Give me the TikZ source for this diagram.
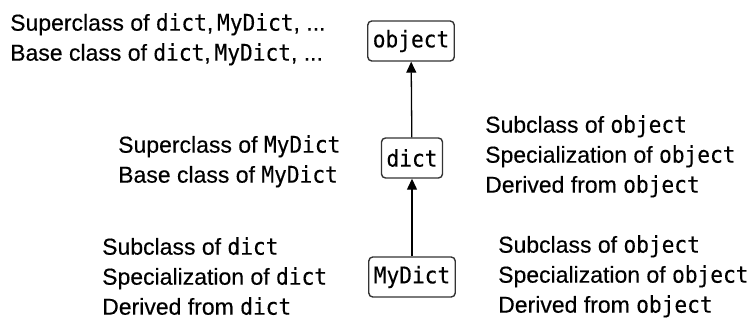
\documentclass[tikz,border=0pt]{standalone}
\usepackage{fontspec}
\setmainfont{Liberation Sans}[FakeBold=0.35]
\setmonofont{DejaVu Sans Mono}[FakeStretch=0.92,FakeBold=0.3]
\usetikzlibrary{arrows.meta}
\newcommand{\cd}[1]{{\fontsize{23}{30}\selectfont\ttfamily #1}}
\tikzset{
  cls/.style={draw=black!80, line width=1.4pt, rounded corners=4pt, minimum height=40pt, inner xsep=5pt, inner ysep=0pt, font=\fontsize{23}{26}\selectfont\ttfamily},
  lbl/.style={anchor=north west, inner sep=0pt, align=left, font=\fontsize{23}{30}\selectfont},
  inh/.style={line width=1.3pt, -{Triangle[length=11pt,width=10pt]}}
}
\begin{document}
\begin{tikzpicture}[x=1pt,y=-1pt]
\useasboundingbox (0,0) rectangle (754,320);
\node[cls] (object) at (411,41) {object};
\node[cls] (dict) at (412,158) {dict};
\node[cls] (mydict) at (412,277) {MyDict};
\draw[inh] (dict) -- (object);
\draw[inh] (mydict) -- (dict);
\node[lbl] (t1) at (10,13) {Superclass of \cd{dict},\,\cd{MyDict}, ...\\Base class of \cd{dict},\,\cd{MyDict}, ...};
\node[lbl] (t2) at (118,135) {Superclass of \cd{MyDict}\\Base class of \cd{MyDict}};
\node[lbl] (t3) at (485,115) {Subclass of \cd{object}\\Specialization of \cd{object}\\Derived from \cd{object}};
\node[lbl] (t4) at (102,237) {Subclass of \cd{dict}\\Specialization of \cd{dict}\\Derived from \cd{dict}};
\node[lbl] (t5) at (498,235) {Subclass of \cd{object}\\Specialization of \cd{object}\\Derived from \cd{object}};
\end{tikzpicture}
\end{document}
